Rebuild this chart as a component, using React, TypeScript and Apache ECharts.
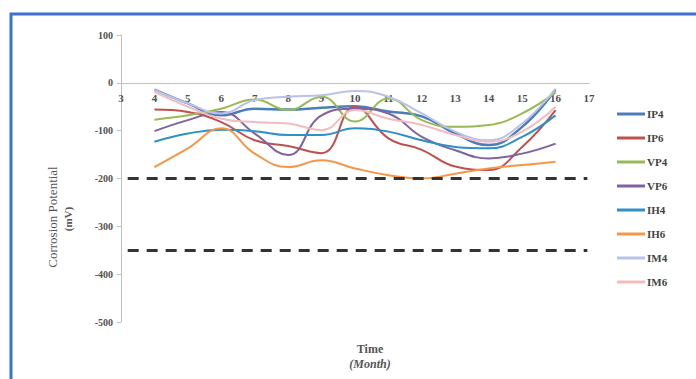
import React, { useEffect, useRef } from "react";
import * as echarts from "echarts";

const months = [4, 5, 6, 7, 8, 9, 10, 11, 12, 13, 14, 15, 16];
const seriesNames = ["IP4", "IP6", "VP4", "VP6", "IH4", "IH6", "IM4", "IM6"];
const seriesColors = ["#4A7EBB", "#C0504D", "#98B954", "#7F62A1", "#2F90C4", "#F79646", "#BAC2EA", "#F3BCBE"];
const ip4 = [-14, -43, -68, -54, -56, -52, -49, -60, -70, -106, -130, -92, -14];
const ip6 = [-56, -61, -82, -120, -132, -147, -50, -116, -140, -175, -182, -134, -57];
const vp4 = [-77, -68, -54, -35, -57, -29, -81, -33, -78, -92, -88, -64, -20];
const vp6 = [-101, -78, -61, -106, -151, -68, -54, -64, -113, -141, -158, -148, -127];
const ih4 = [-123, -106, -98, -101, -109, -109, -95, -102, -120, -134, -137, -113, -68];
const ih6 = [-176, -137, -95, -148, -176, -162, -179, -193, -200, -190, -179, -172, -165];
const im4 = [-15, -43, -64, -36, -29, -26, -17, -29, -64, -102, -120, -85, -12];
const im6 = [-19, -50, -75, -82, -85, -99, -57, -75, -88, -109, -123, -102, -50];
const allValues = [ip4, ip6, vp4, vp6, ih4, ih6, im4, im6];
const thresholds = [-200, -350];
const thresholdSpan = [3.2, 16.95];

const SERIF = "'Liberation Serif', 'Times New Roman', serif";

const GRID_TOP = 35;
const GRID_BOTTOM = 57;
const CHART_H = 379;
const Y_MIN = -500;
const Y_MAX = 100;

export default function App() {
  const ref = useRef<HTMLDivElement>(null);
  useEffect(() => {
    if (!ref.current) return;
    const chart = echarts.init(ref.current, null, { renderer: "svg" });
    const gridH = CHART_H - GRID_TOP - GRID_BOTTOM;
    const zeroOffset = (gridH * (0 - Y_MIN)) / (Y_MAX - Y_MIN);
    const lines = seriesNames.map((name, i) => ({
      name,
      type: "line",
      data: months.map((m, j) => [m, allValues[i][j]]),
      smooth: 0.45,
      showSymbol: false,
      symbol: "none",
      lineStyle: { color: seriesColors[i], width: i === 0 ? 2.5 : 2 },
      itemStyle: { color: seriesColors[i] },
      z: 3,
    }));
    const refSeries = {
      name: "thresholds",
      type: "line",
      data: [],
      silent: true,
      markLine: {
        silent: true,
        symbol: "none",
        label: { show: false },
        lineStyle: { color: "#333333", width: 3, type: [11, 8] },
        data: thresholds.map((t) => [
          { coord: [thresholdSpan[0], t] },
          { coord: [thresholdSpan[1], t] },
        ]),
      },
    };
    chart.setOption({
      animation: false,
      backgroundColor: "#ffffff",
      grid: { left: 121, right: 107, top: GRID_TOP, bottom: GRID_BOTTOM, containLabel: false },
      xAxis: {
        type: "value",
        min: 3,
        max: 17,
        interval: 1,
        offset: -zeroOffset,
        axisLine: { onZero: false, lineStyle: { color: "#C0C0C0", width: 1 } },
        axisTick: { show: false },
        splitLine: { show: false },
        axisLabel: {
          margin: 10,
          color: "#505050",
          fontFamily: SERIF,
          fontWeight: "bold",
          fontSize: 11,
        },
      },
      yAxis: {
        type: "value",
        min: Y_MIN,
        max: Y_MAX,
        interval: 100,
        axisLine: { show: true, onZero: false, lineStyle: { color: "#C0C0C0", width: 1 } },
        axisTick: { show: true, length: 4, lineStyle: { color: "#C0C0C0" } },
        splitLine: { show: false },
        axisLabel: {
          margin: 8,
          color: "#505050",
          fontFamily: SERIF,
          fontWeight: "bold",
          fontSize: 10,
        },
      },
      legend: {
        orient: "vertical",
        left: 612,
        top: 103,
        data: seriesNames,
        icon: "rect",
        itemWidth: 28,
        itemHeight: 3,
        itemGap: 12,
        textStyle: {
          color: "#444444",
          fontFamily: SERIF,
          fontWeight: "bold",
          fontSize: 11,
          lineHeight: 12,
          padding: [0, 0, 0, -3],
        },
      },
      graphic: [
        {
          type: "rect",
          shape: { x: 11, y: 14, width: 720, height: 420 },
          style: { fill: "none", stroke: "#3F6FD0", lineWidth: 3 },
          silent: true,
        },
        {
          type: "text",
          x: 52,
          y: 217,
          rotation: Math.PI / 2,
          style: {
            text: "Corrosion Potential",
            fill: "#555555",
            font: `13px ${SERIF}`,
            textAlign: "center",
            textVerticalAlign: "middle",
          },
        },
        {
          type: "text",
          x: 68,
          y: 219,
          rotation: Math.PI / 2,
          style: {
            text: "(mV)",
            fill: "#555555",
            font: `bold 11px ${SERIF}`,
            textAlign: "center",
            textVerticalAlign: "middle",
          },
        },
        {
          type: "text",
          x: 370,
          y: 349,
          style: {
            text: "Time",
            fill: "#555555",
            font: `bold 12px ${SERIF}`,
            textAlign: "center",
            textVerticalAlign: "middle",
          },
        },
        {
          type: "text",
          x: 370,
          y: 364,
          style: {
            text: "(Month)",
            fill: "#555555",
            font: `italic bold 12px ${SERIF}`,
            textAlign: "center",
            textVerticalAlign: "middle",
          },
        },
      ],
      series: [...lines, refSeries],
    });
    return () => chart.dispose();
  }, []);
  return (
    <div
      ref={ref}
      style={{ position: "fixed", left: 0, top: 0, width: 696, height: 379, background: "#fff" }}
    />
  );
}
